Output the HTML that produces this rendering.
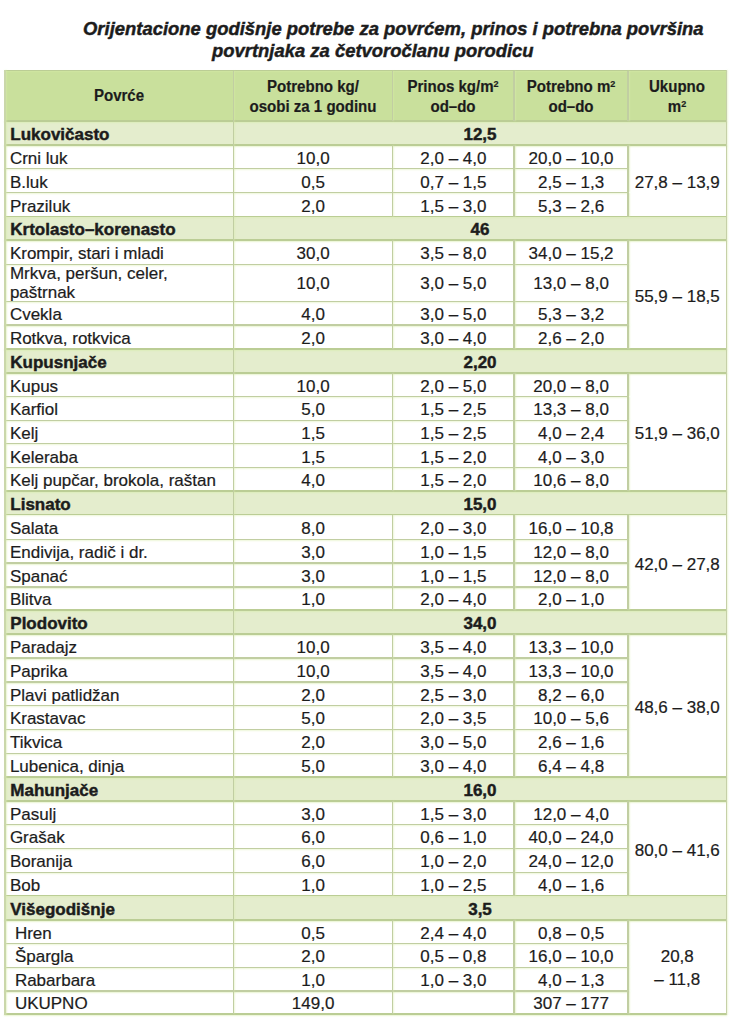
<!DOCTYPE html>
<html><head><meta charset="utf-8"><style>
html,body{margin:0;padding:0;background:#fff;width:734px;height:1024px;overflow:hidden;position:relative}
.a{position:absolute}
.t{position:absolute;white-space:nowrap;font-family:"Liberation Sans",sans-serif;font-size:17px;line-height:1;color:#1c1c1c;-webkit-text-stroke:0.2px #1c1c1c}
.c{text-align:center}
.b{font-weight:bold;-webkit-text-stroke:0.45px #1c1c1c}
.h{font-size:16.0px;font-weight:bold;transform:scaleX(0.94);-webkit-text-stroke:0.2px #1c1c1c}
.ti{font-size:19.0px;font-weight:bold;font-style:italic;-webkit-text-stroke:0.45px #1c1c1c;transform:scaleX(0.97);transform-origin:0 0}
sup{font-size:0.6em;vertical-align:0;position:relative;top:-0.55em}
</style></head><body>
<div class="a" style="left:4.90px;top:70.50px;width:721.60px;height:50.75px;background:#c9e09c;"></div>
<div class="a" style="left:4.90px;top:121.25px;width:721.60px;height:23.95px;background:#e4edcd;"></div>
<div class="a" style="left:4.90px;top:216.60px;width:721.60px;height:23.50px;background:#e4edcd;"></div>
<div class="a" style="left:4.90px;top:349.00px;width:721.60px;height:23.80px;background:#e4edcd;"></div>
<div class="a" style="left:4.90px;top:491.20px;width:721.60px;height:23.40px;background:#e4edcd;"></div>
<div class="a" style="left:4.90px;top:610.30px;width:721.60px;height:23.40px;background:#e4edcd;"></div>
<div class="a" style="left:4.90px;top:776.70px;width:721.60px;height:24.10px;background:#e4edcd;"></div>
<div class="a" style="left:4.90px;top:895.60px;width:721.60px;height:24.20px;background:#e4edcd;"></div>
<div class="a" style="left:4.05px;top:69.65px;width:723.30px;height:1.70px;background:#bbcd95;box-shadow:0 1px 1.5px rgba(215,235,170,0.55)"></div>
<div class="a" style="left:4.05px;top:120.40px;width:723.30px;height:1.70px;background:#bbcd95;box-shadow:0 1px 1.5px rgba(215,235,170,0.55)"></div>
<div class="a" style="left:4.05px;top:144.35px;width:723.30px;height:1.70px;background:#bbcd95;box-shadow:0 1px 1.5px rgba(215,235,170,0.55)"></div>
<div class="a" style="left:4.25px;top:167.95px;width:624.40px;height:1.30px;background:#c1cea2;box-shadow:0 1px 1.5px rgba(215,235,170,0.55)"></div>
<div class="a" style="left:4.25px;top:191.85px;width:624.40px;height:1.30px;background:#c1cea2;box-shadow:0 1px 1.5px rgba(215,235,170,0.55)"></div>
<div class="a" style="left:4.05px;top:215.75px;width:723.30px;height:1.70px;background:#bbcd95;box-shadow:0 1px 1.5px rgba(215,235,170,0.55)"></div>
<div class="a" style="left:4.05px;top:239.25px;width:723.30px;height:1.70px;background:#bbcd95;box-shadow:0 1px 1.5px rgba(215,235,170,0.55)"></div>
<div class="a" style="left:4.25px;top:263.55px;width:624.40px;height:1.30px;background:#c1cea2;box-shadow:0 1px 1.5px rgba(215,235,170,0.55)"></div>
<div class="a" style="left:4.25px;top:301.05px;width:624.40px;height:1.30px;background:#c1cea2;box-shadow:0 1px 1.5px rgba(215,235,170,0.55)"></div>
<div class="a" style="left:4.25px;top:324.45px;width:624.40px;height:1.30px;background:#c1cea2;box-shadow:0 1px 1.5px rgba(215,235,170,0.55)"></div>
<div class="a" style="left:4.05px;top:348.15px;width:723.30px;height:1.70px;background:#bbcd95;box-shadow:0 1px 1.5px rgba(215,235,170,0.55)"></div>
<div class="a" style="left:4.05px;top:371.95px;width:723.30px;height:1.70px;background:#bbcd95;box-shadow:0 1px 1.5px rgba(215,235,170,0.55)"></div>
<div class="a" style="left:4.25px;top:395.85px;width:624.40px;height:1.30px;background:#c1cea2;box-shadow:0 1px 1.5px rgba(215,235,170,0.55)"></div>
<div class="a" style="left:4.25px;top:419.75px;width:624.40px;height:1.30px;background:#c1cea2;box-shadow:0 1px 1.5px rgba(215,235,170,0.55)"></div>
<div class="a" style="left:4.25px;top:443.15px;width:624.40px;height:1.30px;background:#c1cea2;box-shadow:0 1px 1.5px rgba(215,235,170,0.55)"></div>
<div class="a" style="left:4.25px;top:467.05px;width:624.40px;height:1.30px;background:#c1cea2;box-shadow:0 1px 1.5px rgba(215,235,170,0.55)"></div>
<div class="a" style="left:4.05px;top:490.35px;width:723.30px;height:1.70px;background:#bbcd95;box-shadow:0 1px 1.5px rgba(215,235,170,0.55)"></div>
<div class="a" style="left:4.05px;top:513.75px;width:723.30px;height:1.70px;background:#bbcd95;box-shadow:0 1px 1.5px rgba(215,235,170,0.55)"></div>
<div class="a" style="left:4.25px;top:538.55px;width:624.40px;height:1.30px;background:#c1cea2;box-shadow:0 1px 1.5px rgba(215,235,170,0.55)"></div>
<div class="a" style="left:4.25px;top:562.45px;width:624.40px;height:1.30px;background:#c1cea2;box-shadow:0 1px 1.5px rgba(215,235,170,0.55)"></div>
<div class="a" style="left:4.25px;top:586.25px;width:624.40px;height:1.30px;background:#c1cea2;box-shadow:0 1px 1.5px rgba(215,235,170,0.55)"></div>
<div class="a" style="left:4.05px;top:609.45px;width:723.30px;height:1.70px;background:#bbcd95;box-shadow:0 1px 1.5px rgba(215,235,170,0.55)"></div>
<div class="a" style="left:4.05px;top:632.85px;width:723.30px;height:1.70px;background:#bbcd95;box-shadow:0 1px 1.5px rgba(215,235,170,0.55)"></div>
<div class="a" style="left:4.25px;top:657.25px;width:624.40px;height:1.30px;background:#c1cea2;box-shadow:0 1px 1.5px rgba(215,235,170,0.55)"></div>
<div class="a" style="left:4.25px;top:681.35px;width:624.40px;height:1.30px;background:#c1cea2;box-shadow:0 1px 1.5px rgba(215,235,170,0.55)"></div>
<div class="a" style="left:4.25px;top:704.85px;width:624.40px;height:1.30px;background:#c1cea2;box-shadow:0 1px 1.5px rgba(215,235,170,0.55)"></div>
<div class="a" style="left:4.25px;top:728.75px;width:624.40px;height:1.30px;background:#c1cea2;box-shadow:0 1px 1.5px rgba(215,235,170,0.55)"></div>
<div class="a" style="left:4.25px;top:752.65px;width:624.40px;height:1.30px;background:#c1cea2;box-shadow:0 1px 1.5px rgba(215,235,170,0.55)"></div>
<div class="a" style="left:4.05px;top:775.85px;width:723.30px;height:1.70px;background:#bbcd95;box-shadow:0 1px 1.5px rgba(215,235,170,0.55)"></div>
<div class="a" style="left:4.05px;top:799.95px;width:723.30px;height:1.70px;background:#bbcd95;box-shadow:0 1px 1.5px rgba(215,235,170,0.55)"></div>
<div class="a" style="left:4.25px;top:824.05px;width:624.40px;height:1.30px;background:#c1cea2;box-shadow:0 1px 1.5px rgba(215,235,170,0.55)"></div>
<div class="a" style="left:4.25px;top:847.65px;width:624.40px;height:1.30px;background:#c1cea2;box-shadow:0 1px 1.5px rgba(215,235,170,0.55)"></div>
<div class="a" style="left:4.25px;top:871.65px;width:624.40px;height:1.30px;background:#c1cea2;box-shadow:0 1px 1.5px rgba(215,235,170,0.55)"></div>
<div class="a" style="left:4.05px;top:894.75px;width:723.30px;height:1.70px;background:#bbcd95;box-shadow:0 1px 1.5px rgba(215,235,170,0.55)"></div>
<div class="a" style="left:4.05px;top:918.95px;width:723.30px;height:1.70px;background:#bbcd95;box-shadow:0 1px 1.5px rgba(215,235,170,0.55)"></div>
<div class="a" style="left:4.25px;top:942.95px;width:624.40px;height:1.30px;background:#c1cea2;box-shadow:0 1px 1.5px rgba(215,235,170,0.55)"></div>
<div class="a" style="left:4.25px;top:966.65px;width:624.40px;height:1.30px;background:#c1cea2;box-shadow:0 1px 1.5px rgba(215,235,170,0.55)"></div>
<div class="a" style="left:4.25px;top:990.45px;width:624.40px;height:1.30px;background:#c1cea2;box-shadow:0 1px 1.5px rgba(215,235,170,0.55)"></div>
<div class="a" style="left:4.05px;top:1013.15px;width:723.30px;height:1.70px;background:#bbcd95;box-shadow:0 1px 1.5px rgba(215,235,170,0.55)"></div>
<div class="a" style="left:4.05px;top:69.65px;width:1.70px;height:945.20px;background:#cad7aa;box-shadow:1px 0 1.5px rgba(215,235,170,0.55)"></div>
<div class="a" style="left:725.65px;top:69.65px;width:1.70px;height:945.20px;background:#c6d0a8;box-shadow:1px 0 1.5px rgba(215,235,170,0.55)"></div>
<div class="a" style="left:232.85px;top:70.50px;width:1.30px;height:50.75px;background:#c1cea2;box-shadow:1px 0 1.5px rgba(215,235,170,0.55)"></div>
<div class="a" style="left:392.05px;top:70.50px;width:1.30px;height:50.75px;background:#c1cea2;box-shadow:1px 0 1.5px rgba(215,235,170,0.55)"></div>
<div class="a" style="left:513.45px;top:70.50px;width:1.30px;height:50.75px;background:#c1cea2;box-shadow:1px 0 1.5px rgba(215,235,170,0.55)"></div>
<div class="a" style="left:627.35px;top:70.50px;width:1.30px;height:50.75px;background:#c1cea2;box-shadow:1px 0 1.5px rgba(215,235,170,0.55)"></div>
<div class="a" style="left:232.85px;top:121.25px;width:1.30px;height:23.95px;background:#c1cea2;box-shadow:1px 0 1.5px rgba(215,235,170,0.55)"></div>
<div class="a" style="left:232.85px;top:145.20px;width:1.30px;height:23.40px;background:#c1cea2;box-shadow:1px 0 1.5px rgba(215,235,170,0.55)"></div>
<div class="a" style="left:392.05px;top:145.20px;width:1.30px;height:23.40px;background:#c1cea2;box-shadow:1px 0 1.5px rgba(215,235,170,0.55)"></div>
<div class="a" style="left:513.45px;top:145.20px;width:1.30px;height:23.40px;background:#c1cea2;box-shadow:1px 0 1.5px rgba(215,235,170,0.55)"></div>
<div class="a" style="left:627.35px;top:145.20px;width:1.30px;height:23.40px;background:#c1cea2;box-shadow:1px 0 1.5px rgba(215,235,170,0.55)"></div>
<div class="a" style="left:232.85px;top:168.60px;width:1.30px;height:23.90px;background:#c1cea2;box-shadow:1px 0 1.5px rgba(215,235,170,0.55)"></div>
<div class="a" style="left:392.05px;top:168.60px;width:1.30px;height:23.90px;background:#c1cea2;box-shadow:1px 0 1.5px rgba(215,235,170,0.55)"></div>
<div class="a" style="left:513.45px;top:168.60px;width:1.30px;height:23.90px;background:#c1cea2;box-shadow:1px 0 1.5px rgba(215,235,170,0.55)"></div>
<div class="a" style="left:627.35px;top:168.60px;width:1.30px;height:23.90px;background:#c1cea2;box-shadow:1px 0 1.5px rgba(215,235,170,0.55)"></div>
<div class="a" style="left:232.85px;top:192.50px;width:1.30px;height:24.10px;background:#c1cea2;box-shadow:1px 0 1.5px rgba(215,235,170,0.55)"></div>
<div class="a" style="left:392.05px;top:192.50px;width:1.30px;height:24.10px;background:#c1cea2;box-shadow:1px 0 1.5px rgba(215,235,170,0.55)"></div>
<div class="a" style="left:513.45px;top:192.50px;width:1.30px;height:24.10px;background:#c1cea2;box-shadow:1px 0 1.5px rgba(215,235,170,0.55)"></div>
<div class="a" style="left:627.35px;top:192.50px;width:1.30px;height:24.10px;background:#c1cea2;box-shadow:1px 0 1.5px rgba(215,235,170,0.55)"></div>
<div class="a" style="left:232.85px;top:216.60px;width:1.30px;height:23.50px;background:#c1cea2;box-shadow:1px 0 1.5px rgba(215,235,170,0.55)"></div>
<div class="a" style="left:232.85px;top:240.10px;width:1.30px;height:24.10px;background:#c1cea2;box-shadow:1px 0 1.5px rgba(215,235,170,0.55)"></div>
<div class="a" style="left:392.05px;top:240.10px;width:1.30px;height:24.10px;background:#c1cea2;box-shadow:1px 0 1.5px rgba(215,235,170,0.55)"></div>
<div class="a" style="left:513.45px;top:240.10px;width:1.30px;height:24.10px;background:#c1cea2;box-shadow:1px 0 1.5px rgba(215,235,170,0.55)"></div>
<div class="a" style="left:627.35px;top:240.10px;width:1.30px;height:24.10px;background:#c1cea2;box-shadow:1px 0 1.5px rgba(215,235,170,0.55)"></div>
<div class="a" style="left:232.85px;top:264.20px;width:1.30px;height:37.50px;background:#c1cea2;box-shadow:1px 0 1.5px rgba(215,235,170,0.55)"></div>
<div class="a" style="left:392.05px;top:264.20px;width:1.30px;height:37.50px;background:#c1cea2;box-shadow:1px 0 1.5px rgba(215,235,170,0.55)"></div>
<div class="a" style="left:513.45px;top:264.20px;width:1.30px;height:37.50px;background:#c1cea2;box-shadow:1px 0 1.5px rgba(215,235,170,0.55)"></div>
<div class="a" style="left:627.35px;top:264.20px;width:1.30px;height:37.50px;background:#c1cea2;box-shadow:1px 0 1.5px rgba(215,235,170,0.55)"></div>
<div class="a" style="left:232.85px;top:301.70px;width:1.30px;height:23.40px;background:#c1cea2;box-shadow:1px 0 1.5px rgba(215,235,170,0.55)"></div>
<div class="a" style="left:392.05px;top:301.70px;width:1.30px;height:23.40px;background:#c1cea2;box-shadow:1px 0 1.5px rgba(215,235,170,0.55)"></div>
<div class="a" style="left:513.45px;top:301.70px;width:1.30px;height:23.40px;background:#c1cea2;box-shadow:1px 0 1.5px rgba(215,235,170,0.55)"></div>
<div class="a" style="left:627.35px;top:301.70px;width:1.30px;height:23.40px;background:#c1cea2;box-shadow:1px 0 1.5px rgba(215,235,170,0.55)"></div>
<div class="a" style="left:232.85px;top:325.10px;width:1.30px;height:23.90px;background:#c1cea2;box-shadow:1px 0 1.5px rgba(215,235,170,0.55)"></div>
<div class="a" style="left:392.05px;top:325.10px;width:1.30px;height:23.90px;background:#c1cea2;box-shadow:1px 0 1.5px rgba(215,235,170,0.55)"></div>
<div class="a" style="left:513.45px;top:325.10px;width:1.30px;height:23.90px;background:#c1cea2;box-shadow:1px 0 1.5px rgba(215,235,170,0.55)"></div>
<div class="a" style="left:627.35px;top:325.10px;width:1.30px;height:23.90px;background:#c1cea2;box-shadow:1px 0 1.5px rgba(215,235,170,0.55)"></div>
<div class="a" style="left:232.85px;top:349.00px;width:1.30px;height:23.80px;background:#c1cea2;box-shadow:1px 0 1.5px rgba(215,235,170,0.55)"></div>
<div class="a" style="left:232.85px;top:372.80px;width:1.30px;height:23.70px;background:#c1cea2;box-shadow:1px 0 1.5px rgba(215,235,170,0.55)"></div>
<div class="a" style="left:392.05px;top:372.80px;width:1.30px;height:23.70px;background:#c1cea2;box-shadow:1px 0 1.5px rgba(215,235,170,0.55)"></div>
<div class="a" style="left:513.45px;top:372.80px;width:1.30px;height:23.70px;background:#c1cea2;box-shadow:1px 0 1.5px rgba(215,235,170,0.55)"></div>
<div class="a" style="left:627.35px;top:372.80px;width:1.30px;height:23.70px;background:#c1cea2;box-shadow:1px 0 1.5px rgba(215,235,170,0.55)"></div>
<div class="a" style="left:232.85px;top:396.50px;width:1.30px;height:23.90px;background:#c1cea2;box-shadow:1px 0 1.5px rgba(215,235,170,0.55)"></div>
<div class="a" style="left:392.05px;top:396.50px;width:1.30px;height:23.90px;background:#c1cea2;box-shadow:1px 0 1.5px rgba(215,235,170,0.55)"></div>
<div class="a" style="left:513.45px;top:396.50px;width:1.30px;height:23.90px;background:#c1cea2;box-shadow:1px 0 1.5px rgba(215,235,170,0.55)"></div>
<div class="a" style="left:627.35px;top:396.50px;width:1.30px;height:23.90px;background:#c1cea2;box-shadow:1px 0 1.5px rgba(215,235,170,0.55)"></div>
<div class="a" style="left:232.85px;top:420.40px;width:1.30px;height:23.40px;background:#c1cea2;box-shadow:1px 0 1.5px rgba(215,235,170,0.55)"></div>
<div class="a" style="left:392.05px;top:420.40px;width:1.30px;height:23.40px;background:#c1cea2;box-shadow:1px 0 1.5px rgba(215,235,170,0.55)"></div>
<div class="a" style="left:513.45px;top:420.40px;width:1.30px;height:23.40px;background:#c1cea2;box-shadow:1px 0 1.5px rgba(215,235,170,0.55)"></div>
<div class="a" style="left:627.35px;top:420.40px;width:1.30px;height:23.40px;background:#c1cea2;box-shadow:1px 0 1.5px rgba(215,235,170,0.55)"></div>
<div class="a" style="left:232.85px;top:443.80px;width:1.30px;height:23.90px;background:#c1cea2;box-shadow:1px 0 1.5px rgba(215,235,170,0.55)"></div>
<div class="a" style="left:392.05px;top:443.80px;width:1.30px;height:23.90px;background:#c1cea2;box-shadow:1px 0 1.5px rgba(215,235,170,0.55)"></div>
<div class="a" style="left:513.45px;top:443.80px;width:1.30px;height:23.90px;background:#c1cea2;box-shadow:1px 0 1.5px rgba(215,235,170,0.55)"></div>
<div class="a" style="left:627.35px;top:443.80px;width:1.30px;height:23.90px;background:#c1cea2;box-shadow:1px 0 1.5px rgba(215,235,170,0.55)"></div>
<div class="a" style="left:232.85px;top:467.70px;width:1.30px;height:23.50px;background:#c1cea2;box-shadow:1px 0 1.5px rgba(215,235,170,0.55)"></div>
<div class="a" style="left:392.05px;top:467.70px;width:1.30px;height:23.50px;background:#c1cea2;box-shadow:1px 0 1.5px rgba(215,235,170,0.55)"></div>
<div class="a" style="left:513.45px;top:467.70px;width:1.30px;height:23.50px;background:#c1cea2;box-shadow:1px 0 1.5px rgba(215,235,170,0.55)"></div>
<div class="a" style="left:627.35px;top:467.70px;width:1.30px;height:23.50px;background:#c1cea2;box-shadow:1px 0 1.5px rgba(215,235,170,0.55)"></div>
<div class="a" style="left:232.85px;top:491.20px;width:1.30px;height:23.40px;background:#c1cea2;box-shadow:1px 0 1.5px rgba(215,235,170,0.55)"></div>
<div class="a" style="left:232.85px;top:514.60px;width:1.30px;height:24.60px;background:#c1cea2;box-shadow:1px 0 1.5px rgba(215,235,170,0.55)"></div>
<div class="a" style="left:392.05px;top:514.60px;width:1.30px;height:24.60px;background:#c1cea2;box-shadow:1px 0 1.5px rgba(215,235,170,0.55)"></div>
<div class="a" style="left:513.45px;top:514.60px;width:1.30px;height:24.60px;background:#c1cea2;box-shadow:1px 0 1.5px rgba(215,235,170,0.55)"></div>
<div class="a" style="left:627.35px;top:514.60px;width:1.30px;height:24.60px;background:#c1cea2;box-shadow:1px 0 1.5px rgba(215,235,170,0.55)"></div>
<div class="a" style="left:232.85px;top:539.20px;width:1.30px;height:23.90px;background:#c1cea2;box-shadow:1px 0 1.5px rgba(215,235,170,0.55)"></div>
<div class="a" style="left:392.05px;top:539.20px;width:1.30px;height:23.90px;background:#c1cea2;box-shadow:1px 0 1.5px rgba(215,235,170,0.55)"></div>
<div class="a" style="left:513.45px;top:539.20px;width:1.30px;height:23.90px;background:#c1cea2;box-shadow:1px 0 1.5px rgba(215,235,170,0.55)"></div>
<div class="a" style="left:627.35px;top:539.20px;width:1.30px;height:23.90px;background:#c1cea2;box-shadow:1px 0 1.5px rgba(215,235,170,0.55)"></div>
<div class="a" style="left:232.85px;top:563.10px;width:1.30px;height:23.80px;background:#c1cea2;box-shadow:1px 0 1.5px rgba(215,235,170,0.55)"></div>
<div class="a" style="left:392.05px;top:563.10px;width:1.30px;height:23.80px;background:#c1cea2;box-shadow:1px 0 1.5px rgba(215,235,170,0.55)"></div>
<div class="a" style="left:513.45px;top:563.10px;width:1.30px;height:23.80px;background:#c1cea2;box-shadow:1px 0 1.5px rgba(215,235,170,0.55)"></div>
<div class="a" style="left:627.35px;top:563.10px;width:1.30px;height:23.80px;background:#c1cea2;box-shadow:1px 0 1.5px rgba(215,235,170,0.55)"></div>
<div class="a" style="left:232.85px;top:586.90px;width:1.30px;height:23.40px;background:#c1cea2;box-shadow:1px 0 1.5px rgba(215,235,170,0.55)"></div>
<div class="a" style="left:392.05px;top:586.90px;width:1.30px;height:23.40px;background:#c1cea2;box-shadow:1px 0 1.5px rgba(215,235,170,0.55)"></div>
<div class="a" style="left:513.45px;top:586.90px;width:1.30px;height:23.40px;background:#c1cea2;box-shadow:1px 0 1.5px rgba(215,235,170,0.55)"></div>
<div class="a" style="left:627.35px;top:586.90px;width:1.30px;height:23.40px;background:#c1cea2;box-shadow:1px 0 1.5px rgba(215,235,170,0.55)"></div>
<div class="a" style="left:232.85px;top:610.30px;width:1.30px;height:23.40px;background:#c1cea2;box-shadow:1px 0 1.5px rgba(215,235,170,0.55)"></div>
<div class="a" style="left:232.85px;top:633.70px;width:1.30px;height:24.20px;background:#c1cea2;box-shadow:1px 0 1.5px rgba(215,235,170,0.55)"></div>
<div class="a" style="left:392.05px;top:633.70px;width:1.30px;height:24.20px;background:#c1cea2;box-shadow:1px 0 1.5px rgba(215,235,170,0.55)"></div>
<div class="a" style="left:513.45px;top:633.70px;width:1.30px;height:24.20px;background:#c1cea2;box-shadow:1px 0 1.5px rgba(215,235,170,0.55)"></div>
<div class="a" style="left:627.35px;top:633.70px;width:1.30px;height:24.20px;background:#c1cea2;box-shadow:1px 0 1.5px rgba(215,235,170,0.55)"></div>
<div class="a" style="left:232.85px;top:657.90px;width:1.30px;height:24.10px;background:#c1cea2;box-shadow:1px 0 1.5px rgba(215,235,170,0.55)"></div>
<div class="a" style="left:392.05px;top:657.90px;width:1.30px;height:24.10px;background:#c1cea2;box-shadow:1px 0 1.5px rgba(215,235,170,0.55)"></div>
<div class="a" style="left:513.45px;top:657.90px;width:1.30px;height:24.10px;background:#c1cea2;box-shadow:1px 0 1.5px rgba(215,235,170,0.55)"></div>
<div class="a" style="left:627.35px;top:657.90px;width:1.30px;height:24.10px;background:#c1cea2;box-shadow:1px 0 1.5px rgba(215,235,170,0.55)"></div>
<div class="a" style="left:232.85px;top:682.00px;width:1.30px;height:23.50px;background:#c1cea2;box-shadow:1px 0 1.5px rgba(215,235,170,0.55)"></div>
<div class="a" style="left:392.05px;top:682.00px;width:1.30px;height:23.50px;background:#c1cea2;box-shadow:1px 0 1.5px rgba(215,235,170,0.55)"></div>
<div class="a" style="left:513.45px;top:682.00px;width:1.30px;height:23.50px;background:#c1cea2;box-shadow:1px 0 1.5px rgba(215,235,170,0.55)"></div>
<div class="a" style="left:627.35px;top:682.00px;width:1.30px;height:23.50px;background:#c1cea2;box-shadow:1px 0 1.5px rgba(215,235,170,0.55)"></div>
<div class="a" style="left:232.85px;top:705.50px;width:1.30px;height:23.90px;background:#c1cea2;box-shadow:1px 0 1.5px rgba(215,235,170,0.55)"></div>
<div class="a" style="left:392.05px;top:705.50px;width:1.30px;height:23.90px;background:#c1cea2;box-shadow:1px 0 1.5px rgba(215,235,170,0.55)"></div>
<div class="a" style="left:513.45px;top:705.50px;width:1.30px;height:23.90px;background:#c1cea2;box-shadow:1px 0 1.5px rgba(215,235,170,0.55)"></div>
<div class="a" style="left:627.35px;top:705.50px;width:1.30px;height:23.90px;background:#c1cea2;box-shadow:1px 0 1.5px rgba(215,235,170,0.55)"></div>
<div class="a" style="left:232.85px;top:729.40px;width:1.30px;height:23.90px;background:#c1cea2;box-shadow:1px 0 1.5px rgba(215,235,170,0.55)"></div>
<div class="a" style="left:392.05px;top:729.40px;width:1.30px;height:23.90px;background:#c1cea2;box-shadow:1px 0 1.5px rgba(215,235,170,0.55)"></div>
<div class="a" style="left:513.45px;top:729.40px;width:1.30px;height:23.90px;background:#c1cea2;box-shadow:1px 0 1.5px rgba(215,235,170,0.55)"></div>
<div class="a" style="left:627.35px;top:729.40px;width:1.30px;height:23.90px;background:#c1cea2;box-shadow:1px 0 1.5px rgba(215,235,170,0.55)"></div>
<div class="a" style="left:232.85px;top:753.30px;width:1.30px;height:23.40px;background:#c1cea2;box-shadow:1px 0 1.5px rgba(215,235,170,0.55)"></div>
<div class="a" style="left:392.05px;top:753.30px;width:1.30px;height:23.40px;background:#c1cea2;box-shadow:1px 0 1.5px rgba(215,235,170,0.55)"></div>
<div class="a" style="left:513.45px;top:753.30px;width:1.30px;height:23.40px;background:#c1cea2;box-shadow:1px 0 1.5px rgba(215,235,170,0.55)"></div>
<div class="a" style="left:627.35px;top:753.30px;width:1.30px;height:23.40px;background:#c1cea2;box-shadow:1px 0 1.5px rgba(215,235,170,0.55)"></div>
<div class="a" style="left:232.85px;top:776.70px;width:1.30px;height:24.10px;background:#c1cea2;box-shadow:1px 0 1.5px rgba(215,235,170,0.55)"></div>
<div class="a" style="left:232.85px;top:800.80px;width:1.30px;height:23.90px;background:#c1cea2;box-shadow:1px 0 1.5px rgba(215,235,170,0.55)"></div>
<div class="a" style="left:392.05px;top:800.80px;width:1.30px;height:23.90px;background:#c1cea2;box-shadow:1px 0 1.5px rgba(215,235,170,0.55)"></div>
<div class="a" style="left:513.45px;top:800.80px;width:1.30px;height:23.90px;background:#c1cea2;box-shadow:1px 0 1.5px rgba(215,235,170,0.55)"></div>
<div class="a" style="left:627.35px;top:800.80px;width:1.30px;height:23.90px;background:#c1cea2;box-shadow:1px 0 1.5px rgba(215,235,170,0.55)"></div>
<div class="a" style="left:232.85px;top:824.70px;width:1.30px;height:23.60px;background:#c1cea2;box-shadow:1px 0 1.5px rgba(215,235,170,0.55)"></div>
<div class="a" style="left:392.05px;top:824.70px;width:1.30px;height:23.60px;background:#c1cea2;box-shadow:1px 0 1.5px rgba(215,235,170,0.55)"></div>
<div class="a" style="left:513.45px;top:824.70px;width:1.30px;height:23.60px;background:#c1cea2;box-shadow:1px 0 1.5px rgba(215,235,170,0.55)"></div>
<div class="a" style="left:627.35px;top:824.70px;width:1.30px;height:23.60px;background:#c1cea2;box-shadow:1px 0 1.5px rgba(215,235,170,0.55)"></div>
<div class="a" style="left:232.85px;top:848.30px;width:1.30px;height:24.00px;background:#c1cea2;box-shadow:1px 0 1.5px rgba(215,235,170,0.55)"></div>
<div class="a" style="left:392.05px;top:848.30px;width:1.30px;height:24.00px;background:#c1cea2;box-shadow:1px 0 1.5px rgba(215,235,170,0.55)"></div>
<div class="a" style="left:513.45px;top:848.30px;width:1.30px;height:24.00px;background:#c1cea2;box-shadow:1px 0 1.5px rgba(215,235,170,0.55)"></div>
<div class="a" style="left:627.35px;top:848.30px;width:1.30px;height:24.00px;background:#c1cea2;box-shadow:1px 0 1.5px rgba(215,235,170,0.55)"></div>
<div class="a" style="left:232.85px;top:872.30px;width:1.30px;height:23.30px;background:#c1cea2;box-shadow:1px 0 1.5px rgba(215,235,170,0.55)"></div>
<div class="a" style="left:392.05px;top:872.30px;width:1.30px;height:23.30px;background:#c1cea2;box-shadow:1px 0 1.5px rgba(215,235,170,0.55)"></div>
<div class="a" style="left:513.45px;top:872.30px;width:1.30px;height:23.30px;background:#c1cea2;box-shadow:1px 0 1.5px rgba(215,235,170,0.55)"></div>
<div class="a" style="left:627.35px;top:872.30px;width:1.30px;height:23.30px;background:#c1cea2;box-shadow:1px 0 1.5px rgba(215,235,170,0.55)"></div>
<div class="a" style="left:232.85px;top:895.60px;width:1.30px;height:24.20px;background:#c1cea2;box-shadow:1px 0 1.5px rgba(215,235,170,0.55)"></div>
<div class="a" style="left:232.85px;top:919.80px;width:1.30px;height:23.80px;background:#c1cea2;box-shadow:1px 0 1.5px rgba(215,235,170,0.55)"></div>
<div class="a" style="left:392.05px;top:919.80px;width:1.30px;height:23.80px;background:#c1cea2;box-shadow:1px 0 1.5px rgba(215,235,170,0.55)"></div>
<div class="a" style="left:513.45px;top:919.80px;width:1.30px;height:23.80px;background:#c1cea2;box-shadow:1px 0 1.5px rgba(215,235,170,0.55)"></div>
<div class="a" style="left:627.35px;top:919.80px;width:1.30px;height:23.80px;background:#c1cea2;box-shadow:1px 0 1.5px rgba(215,235,170,0.55)"></div>
<div class="a" style="left:232.85px;top:943.60px;width:1.30px;height:23.70px;background:#c1cea2;box-shadow:1px 0 1.5px rgba(215,235,170,0.55)"></div>
<div class="a" style="left:392.05px;top:943.60px;width:1.30px;height:23.70px;background:#c1cea2;box-shadow:1px 0 1.5px rgba(215,235,170,0.55)"></div>
<div class="a" style="left:513.45px;top:943.60px;width:1.30px;height:23.70px;background:#c1cea2;box-shadow:1px 0 1.5px rgba(215,235,170,0.55)"></div>
<div class="a" style="left:627.35px;top:943.60px;width:1.30px;height:23.70px;background:#c1cea2;box-shadow:1px 0 1.5px rgba(215,235,170,0.55)"></div>
<div class="a" style="left:232.85px;top:967.30px;width:1.30px;height:23.80px;background:#c1cea2;box-shadow:1px 0 1.5px rgba(215,235,170,0.55)"></div>
<div class="a" style="left:392.05px;top:967.30px;width:1.30px;height:23.80px;background:#c1cea2;box-shadow:1px 0 1.5px rgba(215,235,170,0.55)"></div>
<div class="a" style="left:513.45px;top:967.30px;width:1.30px;height:23.80px;background:#c1cea2;box-shadow:1px 0 1.5px rgba(215,235,170,0.55)"></div>
<div class="a" style="left:627.35px;top:967.30px;width:1.30px;height:23.80px;background:#c1cea2;box-shadow:1px 0 1.5px rgba(215,235,170,0.55)"></div>
<div class="a" style="left:232.85px;top:991.10px;width:1.30px;height:22.90px;background:#c1cea2;box-shadow:1px 0 1.5px rgba(215,235,170,0.55)"></div>
<div class="a" style="left:392.05px;top:991.10px;width:1.30px;height:22.90px;background:#c1cea2;box-shadow:1px 0 1.5px rgba(215,235,170,0.55)"></div>
<div class="a" style="left:513.45px;top:991.10px;width:1.30px;height:22.90px;background:#c1cea2;box-shadow:1px 0 1.5px rgba(215,235,170,0.55)"></div>
<div class="a" style="left:627.35px;top:991.10px;width:1.30px;height:22.90px;background:#c1cea2;box-shadow:1px 0 1.5px rgba(215,235,170,0.55)"></div>
<div class="t h c" style="left:-80.80px;width:400px;top:88.36px">Povrće</div>
<div class="t h c" style="left:113.10px;width:400px;top:79.16px">Potrebno kg/</div>
<div class="t h c" style="left:113.10px;width:400px;top:99.16px">osobi za 1 godinu</div>
<div class="t h c" style="left:253.40px;width:400px;top:79.16px">Prinos kg/m<sup>2</sup></div>
<div class="t h c" style="left:253.40px;width:400px;top:99.16px">od–do</div>
<div class="t h c" style="left:371.05px;width:400px;top:79.16px">Potrebno m<sup>2</sup></div>
<div class="t h c" style="left:371.05px;width:400px;top:99.16px">od–do</div>
<div class="t h c" style="left:477.25px;width:400px;top:79.16px">Ukupno</div>
<div class="t h c" style="left:477.25px;width:400px;top:99.16px">m<sup>2</sup></div>
<div class="t b" style="left:10.30px;top:126.21px">Lukovičasto</div>
<div class="t b c" style="left:280.00px;width:400px;top:126.21px">12,5</div>
<div class="t" style="left:9.90px;top:149.61px">Crni luk</div>
<div class="t c" style="left:113.10px;width:400px;top:149.61px">10,0</div>
<div class="t c" style="left:253.40px;width:400px;top:149.61px">2,0 – 4,0</div>
<div class="t c" style="left:371.05px;width:400px;top:149.61px">20,0 – 10,0</div>
<div class="t" style="left:9.90px;top:173.51px">B.luk</div>
<div class="t c" style="left:113.10px;width:400px;top:173.51px">0,5</div>
<div class="t c" style="left:253.40px;width:400px;top:173.51px">0,7 – 1,5</div>
<div class="t c" style="left:371.05px;width:400px;top:173.51px">2,5 – 1,3</div>
<div class="t" style="left:9.90px;top:197.61px">Praziluk</div>
<div class="t c" style="left:113.10px;width:400px;top:197.61px">2,0</div>
<div class="t c" style="left:253.40px;width:400px;top:197.61px">1,5 – 3,0</div>
<div class="t c" style="left:371.05px;width:400px;top:197.61px">5,3 – 2,6</div>
<div class="t b" style="left:10.30px;top:221.11px">Krtolasto–korenasto</div>
<div class="t b c" style="left:280.00px;width:400px;top:221.11px">46</div>
<div class="t" style="left:9.90px;top:245.21px">Krompir, stari i mladi</div>
<div class="t c" style="left:113.10px;width:400px;top:245.21px">30,0</div>
<div class="t c" style="left:253.40px;width:400px;top:245.21px">3,5 – 8,0</div>
<div class="t c" style="left:371.05px;width:400px;top:245.21px">34,0 – 15,2</div>
<div class="t" style="left:9.90px;top:264.81px">Mrkva, peršun, celer,</div>
<div class="t" style="left:9.90px;top:284.41px">paštrnak</div>
<div class="t c" style="left:113.10px;width:400px;top:274.56px">10,0</div>
<div class="t c" style="left:253.40px;width:400px;top:274.56px">3,0 – 5,0</div>
<div class="t c" style="left:371.05px;width:400px;top:274.56px">13,0 – 8,0</div>
<div class="t" style="left:9.90px;top:306.11px">Cvekla</div>
<div class="t c" style="left:113.10px;width:400px;top:306.11px">4,0</div>
<div class="t c" style="left:253.40px;width:400px;top:306.11px">3,0 – 5,0</div>
<div class="t c" style="left:371.05px;width:400px;top:306.11px">5,3 – 3,2</div>
<div class="t" style="left:9.90px;top:330.01px">Rotkva, rotkvica</div>
<div class="t c" style="left:113.10px;width:400px;top:330.01px">2,0</div>
<div class="t c" style="left:253.40px;width:400px;top:330.01px">3,0 – 4,0</div>
<div class="t c" style="left:371.05px;width:400px;top:330.01px">2,6 – 2,0</div>
<div class="t b" style="left:10.30px;top:353.81px">Kupusnjače</div>
<div class="t b c" style="left:280.00px;width:400px;top:353.81px">2,20</div>
<div class="t" style="left:9.90px;top:377.51px">Kupus</div>
<div class="t c" style="left:113.10px;width:400px;top:377.51px">10,0</div>
<div class="t c" style="left:253.40px;width:400px;top:377.51px">2,0 – 5,0</div>
<div class="t c" style="left:371.05px;width:400px;top:377.51px">20,0 – 8,0</div>
<div class="t" style="left:9.90px;top:401.41px">Karﬁol</div>
<div class="t c" style="left:113.10px;width:400px;top:401.41px">5,0</div>
<div class="t c" style="left:253.40px;width:400px;top:401.41px">1,5 – 2,5</div>
<div class="t c" style="left:371.05px;width:400px;top:401.41px">13,3 – 8,0</div>
<div class="t" style="left:9.90px;top:424.81px">Kelj</div>
<div class="t c" style="left:113.10px;width:400px;top:424.81px">1,5</div>
<div class="t c" style="left:253.40px;width:400px;top:424.81px">1,5 – 2,5</div>
<div class="t c" style="left:371.05px;width:400px;top:424.81px">4,0 – 2,4</div>
<div class="t" style="left:9.90px;top:448.71px">Keleraba</div>
<div class="t c" style="left:113.10px;width:400px;top:448.71px">1,5</div>
<div class="t c" style="left:253.40px;width:400px;top:448.71px">1,5 – 2,0</div>
<div class="t c" style="left:371.05px;width:400px;top:448.71px">4,0 – 3,0</div>
<div class="t" style="left:9.90px;top:472.21px">Kelj pupčar, brokola, raštan</div>
<div class="t c" style="left:113.10px;width:400px;top:472.21px">4,0</div>
<div class="t c" style="left:253.40px;width:400px;top:472.21px">1,5 – 2,0</div>
<div class="t c" style="left:371.05px;width:400px;top:472.21px">10,6 – 8,0</div>
<div class="t b" style="left:10.30px;top:495.61px">Lisnato</div>
<div class="t b c" style="left:280.00px;width:400px;top:495.61px">15,0</div>
<div class="t" style="left:9.90px;top:520.21px">Salata</div>
<div class="t c" style="left:113.10px;width:400px;top:520.21px">8,0</div>
<div class="t c" style="left:253.40px;width:400px;top:520.21px">2,0 – 3,0</div>
<div class="t c" style="left:371.05px;width:400px;top:520.21px">16,0 – 10,8</div>
<div class="t" style="left:9.90px;top:544.11px">Endivija, radič i dr.</div>
<div class="t c" style="left:113.10px;width:400px;top:544.11px">3,0</div>
<div class="t c" style="left:253.40px;width:400px;top:544.11px">1,0 – 1,5</div>
<div class="t c" style="left:371.05px;width:400px;top:544.11px">12,0 – 8,0</div>
<div class="t" style="left:9.90px;top:567.91px">Spanać</div>
<div class="t c" style="left:113.10px;width:400px;top:567.91px">3,0</div>
<div class="t c" style="left:253.40px;width:400px;top:567.91px">1,0 – 1,5</div>
<div class="t c" style="left:371.05px;width:400px;top:567.91px">12,0 – 8,0</div>
<div class="t" style="left:9.90px;top:591.31px">Blitva</div>
<div class="t c" style="left:113.10px;width:400px;top:591.31px">1,0</div>
<div class="t c" style="left:253.40px;width:400px;top:591.31px">2,0 – 4,0</div>
<div class="t c" style="left:371.05px;width:400px;top:591.31px">2,0 – 1,0</div>
<div class="t b" style="left:10.30px;top:614.71px">Plodovito</div>
<div class="t b c" style="left:280.00px;width:400px;top:614.71px">34,0</div>
<div class="t" style="left:9.90px;top:638.91px">Paradajz</div>
<div class="t c" style="left:113.10px;width:400px;top:638.91px">10,0</div>
<div class="t c" style="left:253.40px;width:400px;top:638.91px">3,5 – 4,0</div>
<div class="t c" style="left:371.05px;width:400px;top:638.91px">13,3 – 10,0</div>
<div class="t" style="left:9.90px;top:663.01px">Paprika</div>
<div class="t c" style="left:113.10px;width:400px;top:663.01px">10,0</div>
<div class="t c" style="left:253.40px;width:400px;top:663.01px">3,5 – 4,0</div>
<div class="t c" style="left:371.05px;width:400px;top:663.01px">13,3 – 10,0</div>
<div class="t" style="left:9.90px;top:686.51px">Plavi patlidžan</div>
<div class="t c" style="left:113.10px;width:400px;top:686.51px">2,0</div>
<div class="t c" style="left:253.40px;width:400px;top:686.51px">2,5 – 3,0</div>
<div class="t c" style="left:371.05px;width:400px;top:686.51px">8,2 – 6,0</div>
<div class="t" style="left:9.90px;top:710.41px">Krastavac</div>
<div class="t c" style="left:113.10px;width:400px;top:710.41px">5,0</div>
<div class="t c" style="left:253.40px;width:400px;top:710.41px">2,0 – 3,5</div>
<div class="t c" style="left:371.05px;width:400px;top:710.41px">10,0 – 5,6</div>
<div class="t" style="left:9.90px;top:734.31px">Tikvica</div>
<div class="t c" style="left:113.10px;width:400px;top:734.31px">2,0</div>
<div class="t c" style="left:253.40px;width:400px;top:734.31px">3,0 – 5,0</div>
<div class="t c" style="left:371.05px;width:400px;top:734.31px">2,6 – 1,6</div>
<div class="t" style="left:9.90px;top:757.71px">Lubenica, dinja</div>
<div class="t c" style="left:113.10px;width:400px;top:757.71px">5,0</div>
<div class="t c" style="left:253.40px;width:400px;top:757.71px">3,0 – 4,0</div>
<div class="t c" style="left:371.05px;width:400px;top:757.71px">6,4 – 4,8</div>
<div class="t b" style="left:10.30px;top:781.81px">Mahunjače</div>
<div class="t b c" style="left:280.00px;width:400px;top:781.81px">16,0</div>
<div class="t" style="left:9.90px;top:805.71px">Pasulj</div>
<div class="t c" style="left:113.10px;width:400px;top:805.71px">3,0</div>
<div class="t c" style="left:253.40px;width:400px;top:805.71px">1,5 – 3,0</div>
<div class="t c" style="left:371.05px;width:400px;top:805.71px">12,0 – 4,0</div>
<div class="t" style="left:9.90px;top:829.31px">Grašak</div>
<div class="t c" style="left:113.10px;width:400px;top:829.31px">6,0</div>
<div class="t c" style="left:253.40px;width:400px;top:829.31px">0,6 – 1,0</div>
<div class="t c" style="left:371.05px;width:400px;top:829.31px">40,0 – 24,0</div>
<div class="t" style="left:9.90px;top:853.31px">Boranija</div>
<div class="t c" style="left:113.10px;width:400px;top:853.31px">6,0</div>
<div class="t c" style="left:253.40px;width:400px;top:853.31px">1,0 – 2,0</div>
<div class="t c" style="left:371.05px;width:400px;top:853.31px">24,0 – 12,0</div>
<div class="t" style="left:9.90px;top:876.61px">Bob</div>
<div class="t c" style="left:113.10px;width:400px;top:876.61px">1,0</div>
<div class="t c" style="left:253.40px;width:400px;top:876.61px">1,0 – 2,5</div>
<div class="t c" style="left:371.05px;width:400px;top:876.61px">4,0 – 1,6</div>
<div class="t b" style="left:10.30px;top:900.81px">Višegodišnje</div>
<div class="t b c" style="left:280.00px;width:400px;top:900.81px">3,5</div>
<div class="t" style="left:14.90px;top:924.61px">Hren</div>
<div class="t c" style="left:113.10px;width:400px;top:924.61px">0,5</div>
<div class="t c" style="left:253.40px;width:400px;top:924.61px">2,4 – 4,0</div>
<div class="t c" style="left:371.05px;width:400px;top:924.61px">0,8 – 0,5</div>
<div class="t" style="left:14.90px;top:948.31px">Špargla</div>
<div class="t c" style="left:113.10px;width:400px;top:948.31px">2,0</div>
<div class="t c" style="left:253.40px;width:400px;top:948.31px">0,5 – 0,8</div>
<div class="t c" style="left:371.05px;width:400px;top:948.31px">16,0 – 10,0</div>
<div class="t" style="left:14.90px;top:972.11px">Rabarbara</div>
<div class="t c" style="left:113.10px;width:400px;top:972.11px">1,0</div>
<div class="t c" style="left:253.40px;width:400px;top:972.11px">1,0 – 3,0</div>
<div class="t c" style="left:371.05px;width:400px;top:972.11px">4,0 – 1,3</div>
<div class="t" style="left:14.90px;top:995.01px">UKUPNO</div>
<div class="t c" style="left:113.10px;width:400px;top:995.01px">149,0</div>
<div class="t c" style="left:371.05px;width:400px;top:995.01px">307 – 177</div>
<div class="t c" style="left:477.25px;width:400px;top:174.31px">27,8 – 13,9</div>
<div class="t c" style="left:477.25px;width:400px;top:287.96px">55,9 – 18,5</div>
<div class="t c" style="left:477.25px;width:400px;top:425.41px">51,9 – 36,0</div>
<div class="t c" style="left:477.25px;width:400px;top:555.86px">42,0 – 27,8</div>
<div class="t c" style="left:477.25px;width:400px;top:698.61px">48,6 – 38,0</div>
<div class="t c" style="left:477.25px;width:400px;top:841.61px">80,0 – 41,6</div>
<div class="t c" style="left:477.25px;width:400px;top:948.21px">20,8</div>
<div class="t c" style="left:477.25px;width:400px;top:970.81px">– 11,8</div>
<div class="t ti" style="left:83.00px;top:19.32px">Orijentacione godišnje potrebe za povrćem, prinos i potrebna površina</div>
<div class="t ti" style="left:211.50px;top:41.22px">povrtnjaka za četvoročlanu porodicu</div>
</body></html>
